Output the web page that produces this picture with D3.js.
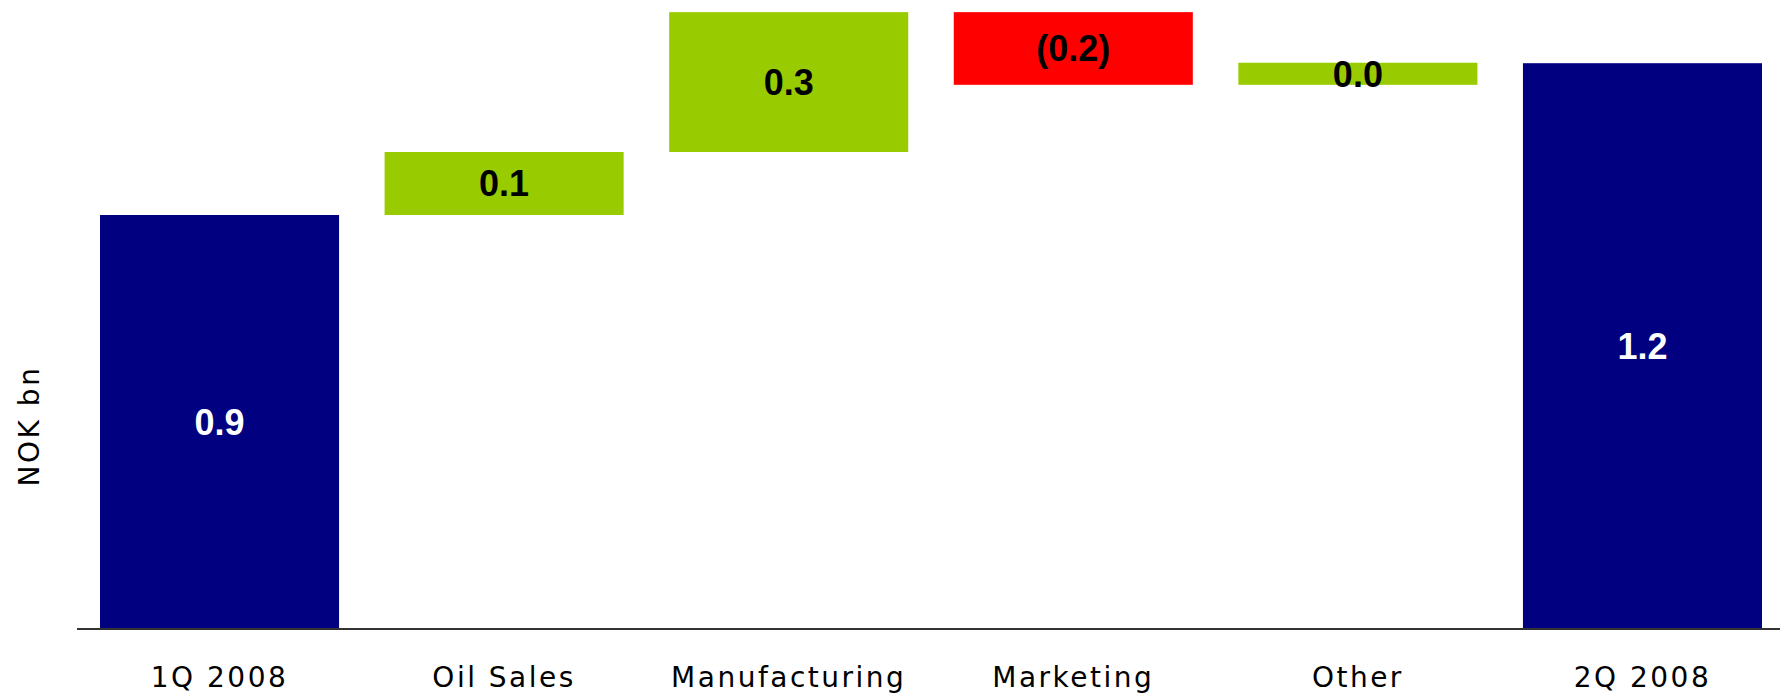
<!DOCTYPE html>
<html>
<head>
<meta charset="utf-8">
<script src="https://cdn.jsdelivr.net/npm/d3@7"></script>
<style>
  html, body { margin: 0; padding: 0; background: #ffffff; }
  svg { display: block; }
</style>
</head>
<body>
<svg id="chart" width="1780" height="696"></svg>
<script>
// Operating result bridge, 1Q 2008 to 2Q 2008 (NOK bn)
const categories = ["1Q 2008", "Oil Sales", "Manufacturing", "Marketing", "Other", "2Q 2008"];
const kinds      = ["total", "delta", "delta", "delta", "delta", "total"];
const values     = [0.90, 0.137, 0.304, -0.158, 0.048, 1.23];
const yAxisTitle = "NOK bn";

const W = 1780, H = 696;
const baseY = 629;

const svg = d3.select("#chart");

const x = d3.scaleBand()
  .domain(categories)
  .range([100, 1762])
  .paddingInner(0.16)
  .paddingOuter(0);

const y = d3.scaleLinear()
  .domain([0, 1.4])
  .range([baseY, baseY - 1.4 * 460]);

// Running totals: each step floats from the previous cumulative level
let running = 0;
const bars = categories.map((c, i) => {
  let lo, hi;
  if (kinds[i] === "total") {
    lo = 0; hi = values[i]; running = values[i];
  } else {
    const start = running;
    running += values[i];
    lo = Math.min(start, running); hi = Math.max(start, running);
  }
  return { cat: c, kind: kinds[i], value: values[i], lo, hi };
});

const fillFor = d => d.kind === "total" ? "#000080" : (d.value < 0 ? "#FF0000" : "#99CC00");
const fmt = d3.format(".1f");
const labelFor = d => d.value < 0 ? "(" + fmt(-d.value) + ")" : fmt(d.value);

svg.append("g").selectAll("rect")
  .data(bars)
  .join("rect")
  .attr("x", d => x(d.cat))
  .attr("width", x.bandwidth())
  .attr("y", d => y(d.hi))
  .attr("height", d => y(d.lo) - y(d.hi))
  .attr("fill", fillFor);

svg.append("g").selectAll("text")
  .data(bars)
  .join("text")
  .attr("x", d => x(d.cat) + x.bandwidth() / 2)
  .attr("y", d => (y(d.lo) + y(d.hi)) / 2)
  .attr("dy", "0.36em")
  .attr("text-anchor", "middle")
  .attr("font-family", "'Liberation Sans', Arial, sans-serif")
  .attr("font-weight", "bold")
  .attr("font-size", 36)
  .attr("fill", d => d.kind === "total" ? "#ffffff" : "#000000")
  .text(labelFor);

// Category axis along the baseline
const xAxis = svg.append("g")
  .attr("transform", `translate(0,${baseY})`)
  .call(d3.axisBottom(x).tickSize(0).tickPadding(0));
xAxis.select(".domain").remove();
xAxis.append("line")
  .attr("x1", 77).attr("x2", W)
  .attr("y1", 0).attr("y2", 0)
  .attr("stroke", "#333333")
  .attr("stroke-width", 2);
xAxis.selectAll(".tick text")
  .attr("y", 58)
  .attr("dy", 0)
  .attr("font-family", "'DejaVu Sans', Verdana, sans-serif")
  .attr("font-size", 28)
  .attr("letter-spacing", "2.5px")
  .attr("fill", "#000000");

svg.append("text")
  .attr("transform", `translate(39,426) rotate(-90)`)
  .attr("text-anchor", "middle")
  .attr("font-family", "'DejaVu Sans', Verdana, sans-serif")
  .attr("font-size", 28)
  .attr("letter-spacing", "2.5px")
  .attr("fill", "#000000")
  .text(yAxisTitle);
</script>
</body>
</html>
